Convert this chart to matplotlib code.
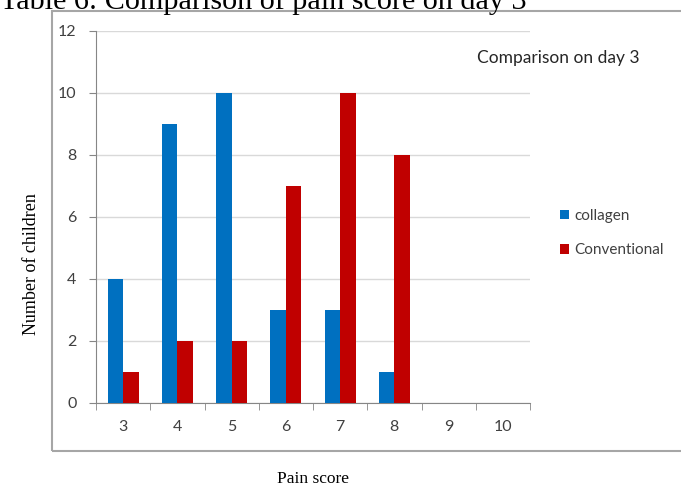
import matplotlib
matplotlib.use("Agg")
import matplotlib.pyplot as plt
import numpy as np
from matplotlib.patches import Rectangle

# pain scores and counts of children per group (day 3)
scores = ["3", "4", "5", "6", "7", "8", "9", "10"]
collagen = [4, 9, 10, 3, 3, 1, 0, 0]
conventional = [1, 2, 2, 7, 10, 8, 0, 0]

BLUE = "#0070C0"
RED = "#C00000"
AX_GREY = "#868686"
TXT = "#404040"
SANS = "Lato"

W, H = 681, 487
fig = plt.figure(figsize=(W / 100, H / 100), dpi=100)

# outer chart frame (runs off the right edge, as in the source)
fig.patches.append(Rectangle((52 / W, 1 - 451 / H), 700 / W, (451 - 11) / H,
                             transform=fig.transFigure, fill=False,
                             edgecolor="#a6a6a6", lw=1.5))

ax = fig.add_axes([96 / W, 1 - 403 / H, (530 - 96) / W, (403 - 31) / H])
x = np.arange(len(scores))
bw = 0.285
ax.bar(x - bw / 2, collagen, bw, color=BLUE, label="collagen", zorder=3)
ax.bar(x + bw / 2, conventional, bw, color=RED, label="Conventional", zorder=3)

ax.set_xlim(-0.5, len(scores) - 0.5)
ax.set_ylim(0, 12)
ax.set_yticks(range(0, 13, 2))
ax.set_xticks(x)
ax.set_xticklabels(scores)
ax.set_xticks(np.arange(-0.5, len(scores), 1.0), minor=True)
ax.tick_params(axis="x", which="major", length=0, pad=12, labelsize=11.5,
               labelcolor=TXT)
ax.tick_params(axis="x", which="minor", length=5, color=AX_GREY, direction="out")
ax.tick_params(axis="y", length=5, color=AX_GREY, direction="out", pad=9,
               labelsize=11.5, labelcolor=TXT)
for lab in ax.get_xticklabels() + ax.get_yticklabels():
    lab.set_family(SANS)

ax.grid(axis="y", color="#d9d9d9", lw=1, zorder=0)
for s in ["top", "right"]:
    ax.spines[s].set_visible(False)
for s in ["left", "bottom"]:
    ax.spines[s].set_color(AX_GREY)

ax.set_xlabel("Pain score", family="Liberation Serif", fontsize=12.5, va="center")
ax.xaxis.set_label_coords((313 - 96) / (530 - 96), -(479 - 403) / (403 - 31))
ax.set_ylabel("Number of children", family="Liberation Serif", fontsize=13,
              va="center")
ax.yaxis.set_label_coords(-(96 - 31) / (530 - 96), (403 - 264) / (403 - 31))

leg = ax.legend(loc="upper left", bbox_to_anchor=(546 / W, 1 - 195 / H),
                bbox_transform=fig.transFigure, frameon=False,
                prop={"family": SANS, "size": 11},
                handlelength=0.6, handleheight=0.6, handletextpad=0.35,
                labelspacing=1.35, labelcolor=TXT)

fig.text(477 / W, 1 - 58 / H, "Comparison on day 3", family=SANS,
         fontsize=12.5, color="#262626", va="center", ha="left")

fig.text(0, 1 - 9 / H, "Table 6: Comparison of pain score on day 3",
         family="Liberation Serif", fontsize=21.7, va="baseline", ha="left")

fig.savefig("out.png", dpi=100)
